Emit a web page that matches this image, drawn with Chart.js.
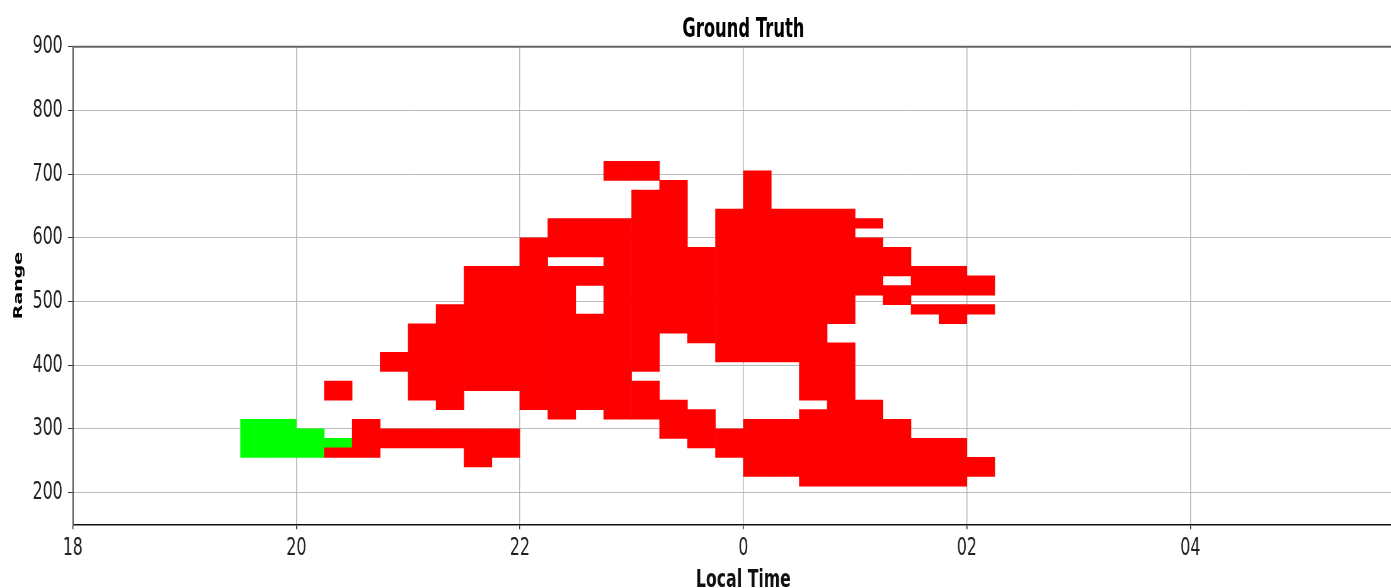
<!DOCTYPE html>
<html>
<head>
<meta charset="utf-8">
<script src="https://cdn.jsdelivr.net/npm/chart.js@4"></script>
<style>
  html, body { margin: 0; padding: 0; background: #fff; overflow: hidden; }
  #frame { width: 1391px; height: 588px; overflow: hidden; position: relative; }
  /* the reference is squeezed horizontally, so draw wide and squeeze */
  #chart { position: absolute; left: 0; top: 0; width: 2270px; height: 588px; transform: scaleX(0.63); transform-origin: 0 0; }
</style>
</head>
<body>
<div id="frame"><canvas id="chart" width="2270" height="588"></canvas></div>
<script>
// ================= DATA =================
// start of each 15 min bin, hours after midnight counted as 24+
const binStart = [19.5, 19.75, 20.0, 20.25, 20.5, 20.75, 21.0, 21.25, 21.5, 21.75,
  22.0, 22.25, 22.5, 22.75, 23.0, 23.25, 23.5, 23.75, 24.0, 24.25,
  24.5, 24.75, 25.0, 25.25, 25.5, 25.75, 26.0];
const binWidth = 0.25;

// range spans [from, to] in each bin
const redCells = [
  [], [], [],
  [[255, 270], [345, 375]],
  [[255, 315]],
  [[270, 300], [390, 420]],
  [[270, 300], [345, 465]],
  [[270, 300], [330, 495]],
  [[240, 300], [360, 555]],
  [[255, 300], [360, 555]],
  [[330, 600]],
  [[315, 555], [570, 630]],
  [[330, 480], [525, 555], [570, 630]],
  [[315, 630], [690, 720]],
  [[315, 375], [390, 675], [690, 720]],
  [[285, 345], [450, 690]],
  [[270, 330], [435, 585]],
  [[255, 300], [405, 645]],
  [[225, 315], [405, 705]],
  [[225, 315], [405, 645]],
  [[210, 330], [345, 645]],
  [[210, 435], [465, 645]],
  [[210, 345], [510, 600], [615, 630]],
  [[210, 315], [495, 525], [540, 585]],
  [[210, 285], [480, 495], [510, 555]],
  [[210, 285], [465, 495], [510, 555]],
  [[225, 255], [480, 495], [510, 540]]
];
const greenCells = [
  [[255, 315]],
  [[255, 315]],
  [[255, 300]],
  [[270, 285]]
];

const timeTicks = [18, 20, 22, 24, 26, 28];
const timeTickLabels = ["18", "20", "22", "0", "02", "04"];
const rangeTicks = [200, 300, 400, 500, 600, 700, 800, 900];

// ================= CHART =================
const SX = 0.63;
const gridColor = "rgba(176, 176, 176, 0.85)";

function toBars(cells) {
  const out = [];
  cells.forEach((spans, i) => {
    spans.forEach(s => out.push({ x: binStart[i] + binWidth / 2, y: s }));
  });
  return out;
}

const topSpine = {
  id: "topSpine",
  afterDraw(chart) {
    const { ctx, chartArea: a } = chart;
    ctx.save();
    ctx.strokeStyle = "#666";
    ctx.lineWidth = 2;
    ctx.beginPath();
    ctx.moveTo(a.left, a.top);
    ctx.lineTo(a.right, a.top);
    ctx.stroke();
    ctx.restore();
  }
};

Chart.defaults.font.family = "'DejaVu Sans', sans-serif";

new Chart(document.getElementById("chart"), {
  type: "bar",
  data: {
    datasets: [
      { label: "red", data: toBars(redCells), backgroundColor: "#ff0000" },
      { label: "green", data: toBars(greenCells), backgroundColor: "#00ff00" }
    ]
  },
  options: {
    responsive: false,
    animation: false,
    devicePixelRatio: 1,
    grouped: false,
    barPercentage: 1,
    categoryPercentage: 1,
    borderWidth: 0,
    layout: { padding: { left: 0, right: 25.7, top: 0, bottom: 0 } },
    plugins: {
      legend: { display: false },
      tooltip: { enabled: false },
      title: {
        display: true,
        text: "Ground Truth",
        fullSize: false,
        color: "#000",
        font: { size: 26, weight: "bold", lineHeight: 1.2 },
        padding: { top: 14.2, bottom: 1.3 }
      }
    },
    scales: {
      x: {
        type: "linear",
        min: 18,
        max: 30,
        offset: false,
        z: 1,
        afterBuildTicks: s => { s.ticks = timeTicks.map(v => ({ value: v })); },
        afterFit: s => { s.height = 63.7; },
        ticks: {
          callback: v => timeTickLabels[timeTicks.indexOf(v)],
          font: { size: 25 },
          color: "#222",
          padding: 4.4,
          maxRotation: 0,
          autoSkip: false
        },
        grid: { color: gridColor, lineWidth: 1 / SX, tickLength: 5, tickColor: "#333", tickWidth: 1 / SX, offset: false },
        border: { color: "#111", width: 1.5 },
        title: {
          display: true,
          text: "Local Time",
          color: "#111",
          font: { size: 25, weight: "bold", lineHeight: 1 },
          padding: { top: 0, bottom: -4.7 }
        }
      },
      y: {
        min: 150,
        max: 900,
        z: 1,
        afterBuildTicks: s => { s.ticks = rangeTicks.map(v => ({ value: v })); },
        afterFit: s => { s.width = 115.6; },
        ticks: { font: { size: 25 }, color: "#222", padding: 8.6 },
        grid: { color: gridColor, lineWidth: 1, tickLength: 7.5, tickColor: "#333", tickWidth: 1 },
        border: { color: "#555", width: 2 },
        title: {
          display: true,
          text: "Range",
          color: "#000",
          font: { size: 19, weight: "bold" },
          padding: { top: 18.6, bottom: 0 }
        }
      }
    }
  },
  plugins: [topSpine]
});
</script>
</body>
</html>
